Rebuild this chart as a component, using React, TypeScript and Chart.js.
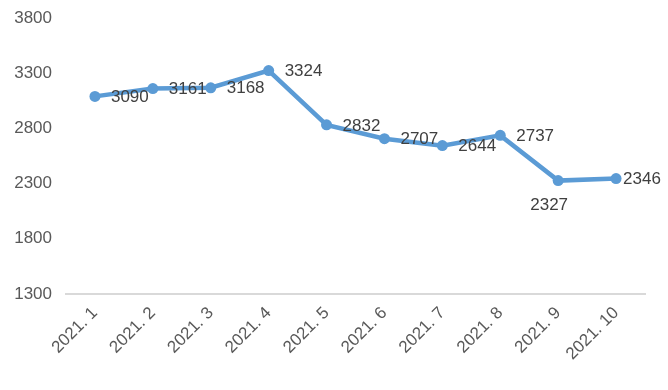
import React, { useEffect, useRef } from "react";
import { Chart, registerables } from "chart.js";

Chart.register(...registerables);

const categories = ["2021. 1", "2021. 2", "2021. 3", "2021. 4", "2021. 5", "2021. 6", "2021. 7", "2021. 8", "2021. 9", "2021. 10"];
const values = [3090, 3161, 3168, 3324, 2832, 2707, 2644, 2737, 2327, 2346];
const yTicks = [1300, 1800, 2300, 2800, 3300, 3800];

// label placement style per point
const labelPlacement = ["right", "right", "right", "right", "right", "right", "right", "right", "below", "rightNear"];

const FONT = "'Liberation Sans', Arial, sans-serif";

const dataLabelPlugin = {
  id: "dataLabels",
  afterDatasetsDraw(chart: any) {
    const ctx = chart.ctx;
    const meta = chart.getDatasetMeta(0);
    ctx.save();
    ctx.font = `17px ${FONT}`;
    ctx.fillStyle = "#404040";
    meta.data.forEach((pt: any, i: number) => {
      const v = chart.data.datasets[0].data[i];
      const p = labelPlacement[i];
      let x = pt.x;
      let y = pt.y;
      if (p === "right") {
        ctx.textAlign = "left";
        ctx.textBaseline = "middle";
        x += 16;
        y += 1;
      } else if (p === "rightNear") {
        ctx.textAlign = "left";
        ctx.textBaseline = "middle";
        x += 7;
        y += 1;
      } else {
        ctx.textAlign = "center";
        ctx.textBaseline = "middle";
        x -= 9;
        y += 25;
      }
      ctx.fillText(String(v), x, y);
    });
    ctx.restore();
  },
};

export default function App() {
  const ref = useRef<HTMLCanvasElement>(null);
  useEffect(() => {
    if (!ref.current) return;
    const chart = new Chart(ref.current, {
      type: "line",
      data: {
        labels: categories,
        datasets: [
          {
            data: values,
            borderColor: "#5B9BD5",
            backgroundColor: "#5B9BD5",
            borderWidth: 4.5,
            pointRadius: 5.5,
            pointBackgroundColor: "#5B9BD5",
            pointBorderColor: "#5B9BD5",
            pointBorderWidth: 0,
            tension: 0,
          },
        ],
      },
      options: {
        animation: false,
        responsive: true,
        maintainAspectRatio: false,
        layout: { padding: { top: 18, right: 23, left: 0, bottom: 0 } },
        plugins: { legend: { display: false }, tooltip: { enabled: false } },
        scales: {
          x: {
            offset: true,
            grid: { display: false, drawTicks: false },
            border: { display: true, color: "#d9d9d9", width: 2 },
            ticks: {
              autoSkip: false,
              minRotation: 45,
              maxRotation: 45,
              padding: 9,
              color: "#595959",
              font: { family: FONT, size: 17 },
            },
            afterFit: (axis: any) => {
              axis.height = 96;
            },
          },
          y: {
            min: 1300,
            max: 3800,
            afterBuildTicks: (axis: any) => {
              axis.ticks = yTicks.map((v) => ({ value: v }));
            },
            grid: { display: false, drawTicks: false },
            border: { display: false },
            ticks: {
              padding: 14,
              color: "#595959",
              font: { family: FONT, size: 17 },
              callback: (v: any) => String(v),
            },
            afterFit: (axis: any) => {
              axis.width = 66;
              axis.paddingTop = 0;
              axis.paddingBottom = 0;
            },
          },
        },
      },
      plugins: [dataLabelPlugin],
    });
    return () => chart.destroy();
  }, []);
  return (
    <div style={{ position: "fixed", left: 0, top: 0, width: 668, height: 390, background: "#fff" }}>
      <canvas ref={ref} />
    </div>
  );
}
